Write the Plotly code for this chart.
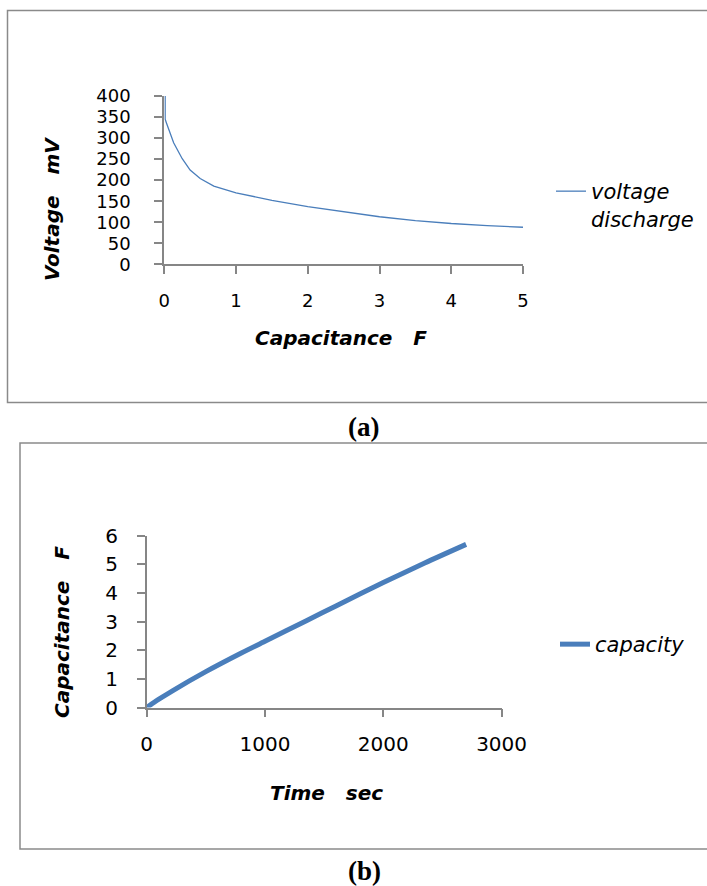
import plotly.graph_objects as go

# ---- data ----
cap_a = [0.012, 0.012, 0.03, 0.07, 0.13, 0.25, 0.36, 0.5, 0.69, 1.0, 1.5, 2.0, 2.5, 3.0, 3.5, 4.0, 4.5, 5.0]
volt_a = [400, 345, 336, 315, 289, 251, 224, 204, 186, 170, 152, 137, 125, 113, 104, 97, 92, 88]

time_b = [0, 100, 225, 500, 800, 1000, 1350, 1600, 2000, 2350, 2700]
cap_b = [0, 0.28, 0.6, 1.25, 1.9, 2.31, 3.03, 3.54, 4.36, 5.04, 5.69]

xticks_a = [0, 1, 2, 3, 4, 5]
yticks_a = [0, 50, 100, 150, 200, 250, 300, 350, 400]
xticks_b = [0, 1000, 2000, 3000]
yticks_b = [0, 1, 2, 3, 4, 5, 6]

W, H = 707, 886
def px(x):
    return x / W
def py(y):
    return 1 - y / H

BLUE = "#4A7EBB"
AXC = "#868686"
FONT = "DejaVu Sans"

fig = go.Figure()
fig.add_trace(go.Scatter(x=cap_a, y=volt_a, mode="lines", name="voltage<br>discharge",
                         line=dict(color=BLUE, width=1.3), xaxis="x", yaxis="y", legend="legend"))
fig.add_trace(go.Scatter(x=time_b, y=cap_b, mode="lines", name="capacity",
                         line=dict(color=BLUE, width=5, shape="spline", smoothing=0.8),
                         xaxis="x2", yaxis="y2", legend="legend2"))

font_a = dict(family=FONT, size=18, color="black")
font_b = dict(family=FONT, size=20, color="black")
common = dict(showgrid=False, zeroline=False, showline=True, ticks="outside", automargin=False,
              tickcolor=AXC, linecolor=AXC)

fig.update_layout(
    width=W, height=H,
    margin=dict(l=0, r=0, t=0, b=0, pad=0),
    paper_bgcolor="white", plot_bgcolor="white",
    xaxis=dict(domain=[px(164.3), px(523)], anchor="y", range=[0, 5], tickvals=xticks_a,
               linewidth=2, tickwidth=2, ticklen=8, ticklabelstandoff=11, tickfont=font_a, **common),
    yaxis=dict(domain=[py(264.3), py(96)], anchor="x", range=[0, 400], tickvals=yticks_a,
               linewidth=2, tickwidth=2, ticklen=8, ticklabelstandoff=20, tickfont=font_a, **common),
    xaxis2=dict(domain=[px(146.7), px(501.6)], anchor="y2", range=[0, 3000], tickvals=xticks_b,
                linewidth=1.6, tickwidth=1.6, ticklen=8, ticklabelstandoff=10, tickfont=font_b, **common),
    yaxis2=dict(domain=[py(707.5), py(535.5)], anchor="x2", range=[0, 6], tickvals=yticks_b,
                linewidth=1.6, tickwidth=1.6, ticklen=8, ticklabelstandoff=15, tickfont=font_b, **common),
    legend=dict(x=px(551), y=py(171), xanchor="left", yanchor="top", valign="top",
                font=dict(family=FONT, size=21, color="black", style="italic"),
                bgcolor="rgba(0,0,0,0)"),
    legend2=dict(x=px(555), y=py(624), xanchor="left", yanchor="top",
                 font=dict(family=FONT, size=21, color="black", style="italic"),
                 bgcolor="rgba(0,0,0,0)"),
    showlegend=True,
)

boxc = "#8a8a8a"
fig.add_shape(type="rect", xref="paper", yref="paper", x0=px(7.5), x1=1.05, y0=py(402.5), y1=py(10.5),
              line=dict(color=boxc, width=1.5), layer="below")
fig.add_shape(type="rect", xref="paper", yref="paper", x0=px(20), x1=1.05, y0=py(849), y1=py(443),
              line=dict(color=boxc, width=1.5), layer="below")

titlefont = dict(family=FONT, size=20, color="black", weight="bold", style="italic")
capfont = dict(family="Liberation Serif", size=27, color="black", weight="bold")
ann = [
    dict(text="Voltage   mV", x=px(52), y=py(209), textangle=-90, font=titlefont),
    dict(text="Capacitance   F", x=px(341), y=py(338), font=titlefont),
    dict(text="Capacitance   F", x=px(62), y=py(632), textangle=-90, font=titlefont),
    dict(text="Time   sec", x=px(326), y=py(793), font=titlefont),
    dict(text="(a)", x=px(363), y=py(427), font=capfont),
    dict(text="(b)", x=px(364), y=py(871), font=capfont),
]
for a in ann:
    fig.add_annotation(xref="paper", yref="paper", showarrow=False, xanchor="center", yanchor="middle", **a)

fig.write_html("out.html", config={"displayModeBar": False},
               post_script="document.body.style.margin='0';document.body.style.overflow='hidden';")
